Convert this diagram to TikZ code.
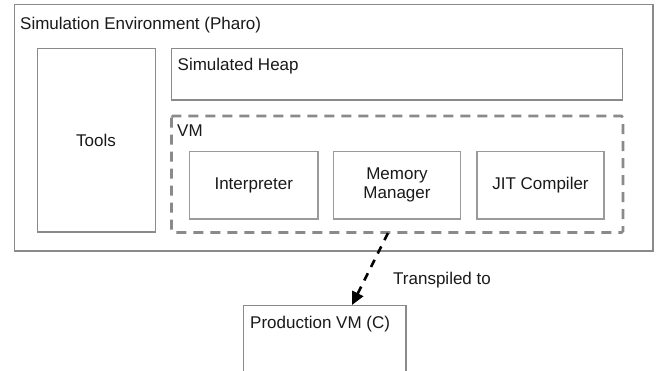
\documentclass[tikz,border=0pt]{standalone}
\usepackage{fontspec}
\setmainfont{Liberation Sans}
\usetikzlibrary{arrows.meta}
\definecolor{boxgray}{HTML}{8A8A8A}
\definecolor{innergray}{HTML}{9A9A9A}
\definecolor{txt}{HTML}{1A1A1A}
\begin{document}
\begin{tikzpicture}[x=1pt,y=-1pt,
  every node/.style={font=\fontsize{17}{19}\selectfont, text=txt, inner sep=0pt},
  outerbox/.style={draw=boxgray, line width=1.6pt},
  innerbox/.style={draw=innergray, line width=1.1pt},
  vmbox/.style={draw=boxgray, line width=2.6pt, dash pattern=on 10pt off 7pt, rounded corners=1.5pt},
  conn/.style={draw=black, line width=2.6pt, dash pattern=on 8pt off 7pt, -{Triangle[length=13pt,width=12pt]}},
  lbl/.style={anchor=base west}
]
\clip (0,0) rectangle (656,370);
\fill[white] (0,0) rectangle (656,370);

% outer environment
\draw[outerbox] (14.5,4.5) rectangle (653,251);
\node[lbl] (envlbl) at (20,29) {Simulation Environment (Pharo)};

% Tools
\draw[outerbox] (37.5,48.5) rectangle (155.5,232);
\node (tools) at (96,140) {Tools};

% Simulated heap
\draw[outerbox] (171.5,48.5) rectangle (622.5,100);
\node[lbl] (heaplbl) at (177.5,70.5) {Simulated Heap};

% VM dashed
\draw[vmbox] (171.5,116) rectangle (623,232.5);
\coordinate (vmbottom) at (388,233);
\node[lbl] (vmlbl) at (177,136.5) {VM};

% components
\draw[innerbox] (189.5,151.5) rectangle (318,219);
\node (interp) at (253.75,185) {Interpreter};
\draw[innerbox] (333.5,151.5) rectangle (460.5,219);
\node[align=center] (mm) at (397,185) {Memory\\Manager};
\draw[innerbox] (477,151.5) rectangle (604,219);
\node (jit) at (540.5,185) {JIT Compiler};

% production VM
\draw[outerbox] (243.5,305.5) rectangle (406,400);
\coordinate (prodtop) at (352,305);
\node[lbl] (prodlbl) at (250,328.3) {Production VM (C)};

% connector
\draw[conn] (vmbottom) -- (prodtop);
\node[lbl] (trans) at (393,284) {Transpiled to};
\end{tikzpicture}
\end{document}
